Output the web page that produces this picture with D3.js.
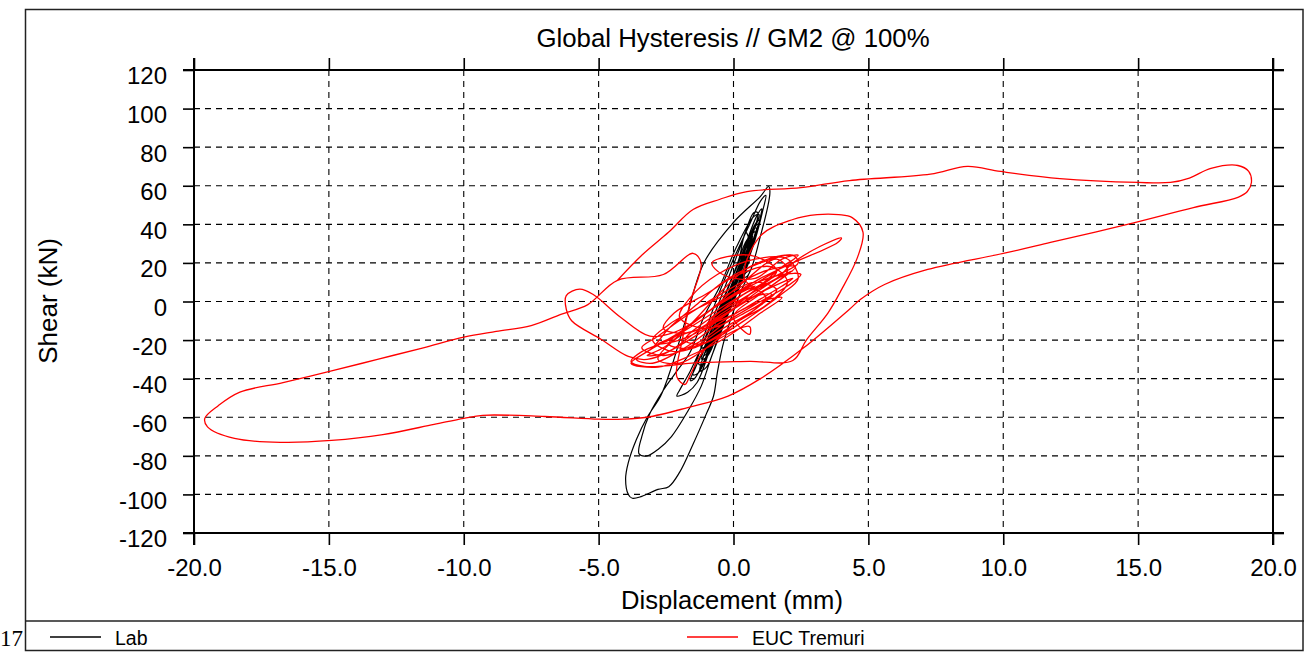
<!DOCTYPE html>
<html><head><meta charset="utf-8">
<script src="https://cdn.jsdelivr.net/npm/d3@7"></script>
<style>body{margin:0;background:#fff}svg{display:block}</style>
</head><body><svg id="c" width="1304" height="652"></svg>
<script>
const title = "Global Hysteresis // GM2 @ 100%";
const xLabel = "Displacement (mm)";
const yLabel = "Shear (kN)";
const xTicks = [-20,-15,-10,-5,0,5,10,15,20];
const xTickLabels = ["-20.0","-15.0","-10.0","-5.0","0.0","5.0","10.0","15.0","20.0"];
const yTicks = [-120,-100,-80,-60,-40,-20,0,20,40,60,80,100,120];
const yTickLabels = ["-120","-100","-80","-60","-40","-20","0","20","40","60","80","100","120"];
const seriesNames = ["Lab","EUC Tremuri"];
const seriesColors = ["#000000","#ff0000"];
const pageNumber = "17";

// Lab (black) displacement [mm], shear [kN]
const labData = [
[0,0],[0.3,10],[0.5,18],[0.35,16],[-0.1,2],[-0.5,-10],[-0.8,-18],[-0.6,-15],[-0.1,-2],[0.3,10],
[0.6,24],[0.75,30],[0.55,26],[0.1,10],[-0.4,-6],[-0.9,-22],[-1.1,-28],[-0.9,-26],[-0.4,-12],[0.1,4],
[0.5,20],[0.8,34],[0.9,40],[0.7,36],[0.2,18],[-0.3,0],[-0.9,-20],[-1.3,-32],[-1.2,-33],[-0.7,-20],
[-0.2,-4],[0.3,12],[0.7,28],[1.0,44],[1.05,48],[0.85,44],[0.3,24],[-0.3,4],[-1.0,-18],[-1.6,-36],
[-2.0,-46],[-2.1,-49],[-1.7,-47],[-1.35,-42],[-0.9,-26],[-0.4,-6],[0.2,15],[0.7,35],[0.95,45],[0.75,44],
[0.1,28],[-0.5,8],[-1.1,-8],[-1.6,-26],[-2.2,-38],[-2.6,-46],[-3.1,-58],[-3.4,-70],[-3.5,-79],[-3.2,-80],
[-2.8,-76.7],[-2.3,-70],[-1.7,-57],[-1.2,-44],[-0.8,-28],[-0.3,-10],[0.3,12],[0.8,32],[1.1,48],[1.2,55],
[1.0,52],[0.6,40],[0,22],[-0.6,2],[-1.0,-14],[-1.2,-24],[-0.9,-22],[-0.3,-6],[0.3,12],[0.6,22],
[0.4,20],[-0.2,2],[-0.7,-14],[-1.0,-20],[-0.6,-12],[0,2],
[0.2,8],[0.6,26],[0.85,38],[0.7,37],[0.3,20],[-0.2,0],[-0.7,-18],[-1.0,-27],[-0.85,-25],[-0.4,-10],
[0.15,8],[0.5,22],[0.7,32],[0.55,30],[0.1,14],[-0.45,-6],[-0.9,-22],[-1.15,-30],[-0.95,-28],[-0.5,-14],
[0.05,4],[0.45,18],[0.75,33],[0.95,42],[0.8,40],[0.35,24],[-0.15,6],[-0.65,-12],[-1.05,-26],[-1.25,-36],
[-1.0,-34],[-0.55,-18],[0,0],[0.4,16],[0.65,28],[0.5,26],[0.05,10],[-0.35,-4],[-0.75,-16],[-0.6,-14],
[-0.1,0],[0.35,14],[0.6,30],[0.45,36],[0.2,22],[-0.3,4],[-0.85,-16],[-1.4,-34],[-1.6,-41],[-1.45,-40],
[-1.0,-28],[-0.5,-10],[0.1,10],[0.55,26],[0.8,36],[0.6,34],[0.15,16],[-0.4,-2],[-0.95,-20],[-1.2,-30],
[-0.95,-24],[-0.3,-4],[0.25,14],[0.65,32],[0.9,46],[0.75,46],[0.3,30],[-0.25,10],[-0.8,-10],[-1.3,-28],
[-1.5,-38],[-1.3,-37],[-0.8,-22],[-0.2,-2],[0.4,20],[0.7,34],[0.5,32],[0,14],[-0.5,-4],[-1.0,-22],
[-0.8,-20],[-0.3,-4],[0.2,12],[0.5,13],[1.0,34],[1.35,57],[1.3,59.6],
[1.0,54.5],[0,41],[-1.1,20],[-1.7,-6],[-2.3,-34],[-2.7,-49],[-3.2,-60],[-3.6,-71.5],[-3.9,-83.5],[-4.0,-92],
[-3.9,-100],[-3.75,-102],[-3.4,-101],[-2.8,-97.4],[-2.4,-96],[-2.0,-88.6],[-1.5,-74],[-1.0,-58],[-0.74,-49],[-0.6,-37],
[-0.4,-23],[-0.1,-9],[0.3,6],[0.6,16],[0.4,14],[0,2],[-0.4,-8]
];

// EUC Tremuri (red) displacement [mm], shear [kN]
const eucData = [
[-4.3,11],[-3.4,24],[-2.4,36],[-1.5,47.7],[-0.5,53],[0.5,57],[2.5,59],[4.3,62.7],[7.3,66],[8.67,70],
[9.9,67.4],[12.1,63.7],[15,61.7],[16.2,61.7],[16.9,64],[17.7,69],[18.7,70.5],[19.1,67.4],[19.2,61.7],[19.05,57],
[18.7,54],[17.05,48.7],[14.6,40],[11.75,30.6],[10,24.9],[7.2,16.6],[5.6,8.8],[4.7,1],[4.3,-4],[2.6,-24],
[1.0,-40],[-0.2,-49],[-1.7,-55],[-3.2,-60],[-4.1,-61],[-5.0,-61],[-7.0,-59.6],[-9.3,-59],[-10,-60.6],[-11.1,-63.7],
[-13,-69],[-14.9,-72],[-16.7,-73],[-18.5,-71],[-19.5,-65],[-19.6,-60.6],[-19.1,-54],[-18.3,-47],[-16.7,-42],[-14.9,-36],
[-13.2,-30],[-11.5,-24],[-10,-18.5],[-8.8,-15.5],[-7.5,-12.5],[-6.4,-6.7],[-5.4,-1.6],[-4.3,11],
[-2.6,14],[-1.5,25],[-1.2,20],[-1.6,0],[-1.9,-20],[-2.1,-39],[-1.8,-43],[-1.6,-38],[-1.0,-24],
[0.6,-13],[0.6,-17],[0.0,-8],[1.0,4],
[2.0,16],[1.6,22],[0.2,8],[-1.0,-6],[-2.2,-18],[-2.8,-22],[-2.0,-20],[-0.6,-10],[0.8,6],[1.8,18],
[2.3,23],[1.9,24],[0.6,18],[-0.4,6],[-1.6,-12],[-2.6,-24],[-3.2,-28],[-2.6,-27],[-1.2,-16],[0.2,-2],
[1.4,10],[2.2,16],[1.6,12],[0.4,2],[-0.8,-8],[-1.8,-20],[-1.2,-22],[0,-12],[1.0,-2],[1.6,6],
[0.8,10],[-0.2,4],[-1.4,-4],[-2.4,-12],[-3.0,-20],[-2.2,-26],[-0.8,-20],[0.6,-8],[1.8,4],[2.4,12],
[2.0,22],[0.8,22],[-0.6,14],[-1.6,2],[-2.0,-8],[-1.0,-14],[0.4,-6],[1.2,2],[0.4,12],
[1.0,34],[2.2,42.5],[3.1,45],[3.9,45],[4.4,43.5],[4.8,36],[4.6,23],[4.0,6],[3.5,-6],[2.7,-20],
[2.2,-30.6],[0.6,-31],[-1.2,-31.6],[-3.3,-33.6],[-3.8,-31],[-3.4,-26],[-2.4,-20],[-1.0,-8],[0.4,4],[1.6,12],
[2.2,20],[3.2,28.5],[4.0,33],[3.85,30.5],[2.2,20],[1.0,12],[-0.2,2],[-1.4,-10],[-2.2,-16],
[-3.1,-18],[-4.2,-8],[-5.2,3.6],[-5.7,6.4],[-6.2,3],[-6.2,-4],[-6.0,-10],[-4.9,-19.7],[-3.9,-28.5],[-3.2,-30],
[-2.4,-26],[-1.2,-14],[0.2,-2],[1.6,10],[2.3,18],[1.2,16],[-0.2,6],[-1.6,-6],[-2.8,-18],[-3.4,-24],
[-2.6,-28],[-1.4,-22],[-0.2,-10],[1.0,0],[2.0,8],[2.5,14],[1.8,14],[0.6,8],[-0.6,-2],[-1.8,-14],
[-2.4,-22],[-1.6,-24],[-0.4,-14],[0.8,-4],[1.4,4],[0.6,2],
[0,0],[1.4,12],[2.4,20],[2.2,24],[1.0,20],[-0.4,10],[-1.4,-2],[-2.4,-14],[-3.0,-24],[-3.6,-30],
[-3.0,-32],[-1.8,-24],[-0.6,-12],[0.6,-2],[1.8,8],[2.2,12],[1.2,6],[0,-4],[-1.2,-14],[-2.0,-18],
[-2.8,-30],[-2.0,-32],[-1.0,-24],[0.2,-10],[1.2,-2],[2.0,10],[1.4,18],[0.2,14],[-1.0,4],[-2.2,-6],
[-2.6,-14],[-1.6,-16],[-0.4,-6],[0.8,6],[1.6,16],[0.6,24],[-0.8,20],[-0.4,14],[0.8,12],[1.8,22],
[2.4,24],[1.6,16],[0.4,6],[-0.8,-4],[-2.0,-16],[-3.2,-26],[-3.8,-32],[-2.8,-34],[-1.6,-28],[-0.2,-18],
[1.0,-6],[1.8,2],[1.0,0],[-0.2,-8],[-1.0,-12],[-0.2,-2],[0.8,8],[0.2,4]
];

const FONT = "'Liberation Sans', Arial, sans-serif";
const svg = d3.select("#c");
svg.append("rect").attr("width",1304).attr("height",652).attr("fill","#fff");

const x = d3.scaleLinear().domain([-20,20]).range([194,1273]);
const y = d3.scaleLinear().domain([-120,120]).range([533,70]);
const T = 12;

// outer frame and legend separator
svg.append("rect").attr("x",25.5).attr("y",9.5).attr("width",1277.5).attr("height",641)
  .attr("fill","none").attr("stroke","#222").attr("stroke-width",1.5);
svg.append("line").attr("x1",25).attr("x2",1304).attr("y1",621).attr("y2",621)
  .attr("stroke","#222").attr("stroke-width",1.5);

// grid
const grid = svg.append("g").attr("stroke","#000").attr("stroke-width",1.1).attr("stroke-dasharray","6,5");
grid.selectAll("line.gx").data(xTicks.slice(1,-1)).join("line").attr("class","gx")
  .attr("x1",d=>x(d)).attr("x2",d=>x(d)).attr("y1",y(120)).attr("y2",y(-120));
grid.selectAll("line.gy").data(yTicks.slice(1,-1)).join("line").attr("class","gy")
  .attr("y1",d=>y(d)).attr("y2",d=>y(d)).attr("x1",x(-20)).attr("x2",x(20));

// axes
function styleAxis(g){
  g.select(".domain").remove();
  g.selectAll(".tick line").attr("stroke","#000").attr("stroke-width",1.6);
  g.selectAll("text").attr("font-size",24).style("font-family",FONT).attr("fill","#000");
}
svg.append("g").attr("transform",`translate(0,${y(-120)})`)
  .call(d3.axisBottom(x).tickValues(xTicks).tickFormat((d,i)=>xTickLabels[i]).tickSize(T).tickPadding(14))
  .call(styleAxis);
svg.append("g").attr("transform",`translate(0,${y(120)})`)
  .call(d3.axisTop(x).tickValues(xTicks).tickFormat("").tickSize(T))
  .call(styleAxis);
const ya = svg.append("g").attr("transform",`translate(${x(-20)},0)`)
  .call(d3.axisLeft(y).tickValues(yTicks).tickFormat((d,i)=>yTickLabels[i]).tickSize(T-1).tickPadding(16))
  .call(styleAxis);
ya.selectAll("text").attr("dy","0.58em");
svg.append("g").attr("transform",`translate(${x(20)},0)`)
  .call(d3.axisRight(y).tickValues(yTicks).tickFormat("").tickSize(T-1))
  .call(styleAxis);

// solid frame lines of plot
const fr = svg.append("g").attr("stroke","#000").attr("stroke-width",2);
fr.append("line").attr("x1",x(-20)).attr("x2",x(-20)).attr("y1",y(120)-T).attr("y2",y(-120)+T);
fr.append("line").attr("x1",x(20)).attr("x2",x(20)).attr("y1",y(120)-T).attr("y2",y(-120)+T);
fr.append("line").attr("x1",x(-20)-T+1).attr("x2",x(20)+T-1).attr("y1",y(120)).attr("y2",y(120));
fr.append("line").attr("x1",x(-20)-T+1).attr("x2",x(20)+T-1).attr("y1",y(-120)).attr("y2",y(-120));

// data
const line = d3.line().x(d=>x(d[0])).y(d=>y(d[1])).curve(d3.curveCatmullRom.alpha(0.5));
const plot = svg.append("g");
plot.append("path").datum(labData).attr("d",line).attr("fill","none")
  .attr("stroke",seriesColors[0]).attr("stroke-width",1.2).attr("stroke-linejoin","round");
plot.append("path").datum(eucData).attr("d",line).attr("fill","none")
  .attr("stroke",seriesColors[1]).attr("stroke-width",1.3).attr("stroke-linejoin","round");

// titles
const txt = (xx,yy,s,size)=>svg.append("text").attr("x",xx).attr("y",yy).attr("font-size",size)
  .style("font-family",FONT).attr("fill","#000").text(s);
txt(733,47,title,25.8).attr("text-anchor","middle");
txt(732,609,xLabel,25.6).attr("text-anchor","middle");
svg.append("text").attr("transform","translate(57,301) rotate(-90)").attr("text-anchor","middle")
  .attr("font-size",26).style("font-family",FONT).text(yLabel);

// legend
const legX = [50,687];
seriesNames.forEach((n,i)=>{
  svg.append("line").attr("x1",legX[i]).attr("x2",legX[i]+51).attr("y1",637).attr("y2",637)
    .attr("stroke",seriesColors[i]).attr("stroke-width",1.5);
  txt(legX[i]+65,645,n,19.5);
});

// page number
svg.append("text").attr("x",0).attr("y",646).attr("font-size",23)
  .style("font-family","'Liberation Serif','Times New Roman',serif").text(pageNumber);
</script></body></html>
